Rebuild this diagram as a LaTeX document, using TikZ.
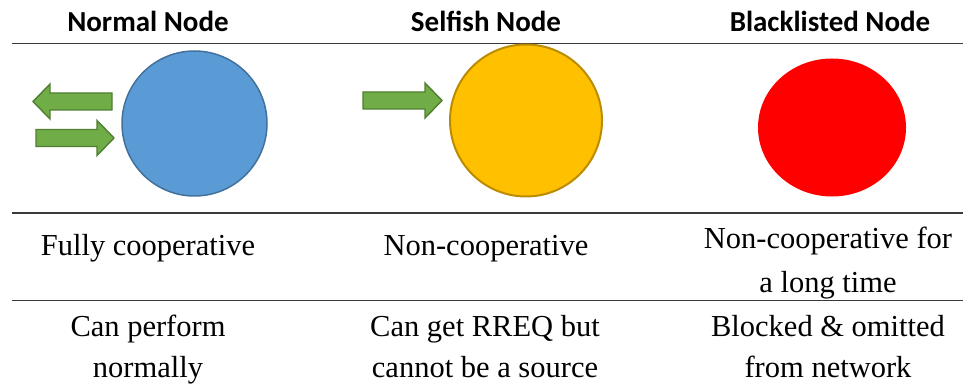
\documentclass[tikz,border=0pt]{standalone}
\usepackage{fontspec}
\setmainfont{Liberation Serif}
\newfontfamily\headfont{Carlito}
\definecolor{bluefill}{HTML}{5B9BD5}
\definecolor{blueline}{HTML}{41719C}
\definecolor{yelfill}{HTML}{FFC000}
\definecolor{yelline}{HTML}{BC8C00}
\definecolor{redfill}{HTML}{FF0000}
\definecolor{grfill}{HTML}{70AD47}
\definecolor{grline}{HTML}{507E32}
\definecolor{rule}{HTML}{3A3A3A}
\tikzset{
  head/.style={anchor=base, inner sep=0pt, font=\headfont\bfseries\fontsize{29}{34}\selectfont},
  body/.style={anchor=base, inner sep=0pt, font=\fontsize{30.5}{43}\selectfont},
  hrule/.style={draw=rule, line width=1.5pt},
  garrow/.style={fill=grfill, draw=grline, line width=1.4pt, line join=miter},
}
% block arrow: #1 tail x, #2 head base x, #3 tip x, #4 centre y
\newcommand{\blockarr}[4]{%
  \draw[garrow] (#1,#4-8.5) -- (#2,#4-8.5) -- (#2,#4-17.5) -- (#3,#4)
    -- (#2,#4+17.5) -- (#2,#4+8.5) -- (#1,#4+8.5) -- cycle;}
\begin{document}
\begin{tikzpicture}[x=1pt,y=-1pt]
\useasboundingbox (0,0) rectangle (963,387);
% headers
\node[head] (h1) at (148,32) {Normal Node};
\node[head] (h2) at (486,32) {Selfish Node};
\node[head] (h3) at (830,32) {Blacklisted Node};
% rules
\coordinate (l1a) at (12,43.5); \coordinate (l1b) at (963,43.5);
\coordinate (l2a) at (12,213);  \coordinate (l2b) at (963,213);
\coordinate (l3a) at (12,300.5);\coordinate (l3b) at (963,300.5);
\draw[hrule] (l1a) -- (l1b);
\draw[hrule] (l2a) -- (l2b);
\draw[hrule] (l3a) -- (l3b);
% circles
\draw[fill=bluefill, draw=blueline, line width=1.5pt] (194.5,123.5) circle[radius=72.5];
\draw[fill=yelfill, draw=yelline, line width=2pt] (526,120.5) circle[radius=76];
\fill[redfill] (832,127.5) ellipse[x radius=74, y radius=69];
% arrows
\blockarr{112}{50}{33}{101.5}
\blockarr{36}{97}{114}{138}
\blockarr{363}{425}{442}{100.5}
% row 1
\node[body] (r1c1) at (148,255) {Fully cooperative};
\node[body] (r1c2) at (486,255) {Non-cooperative};
\node[body] (r1c3a) at (828,249) {Non-cooperative for};
\node[body] (r1c3b) at (828,292) {a long time};
% row 2
\node[body] (r2c1a) at (148,336) {Can perform};
\node[body] (r2c1b) at (148,377) {normally};
\node[body] (r2c2a) at (485,336) {Can get RREQ but};
\node[body] (r2c2b) at (485,377) {cannot be a source};
\node[body] (r2c3a) at (828,336) {Blocked \& omitted};
\node[body] (r2c3b) at (828,377) {from network};
\end{tikzpicture}
\end{document}
